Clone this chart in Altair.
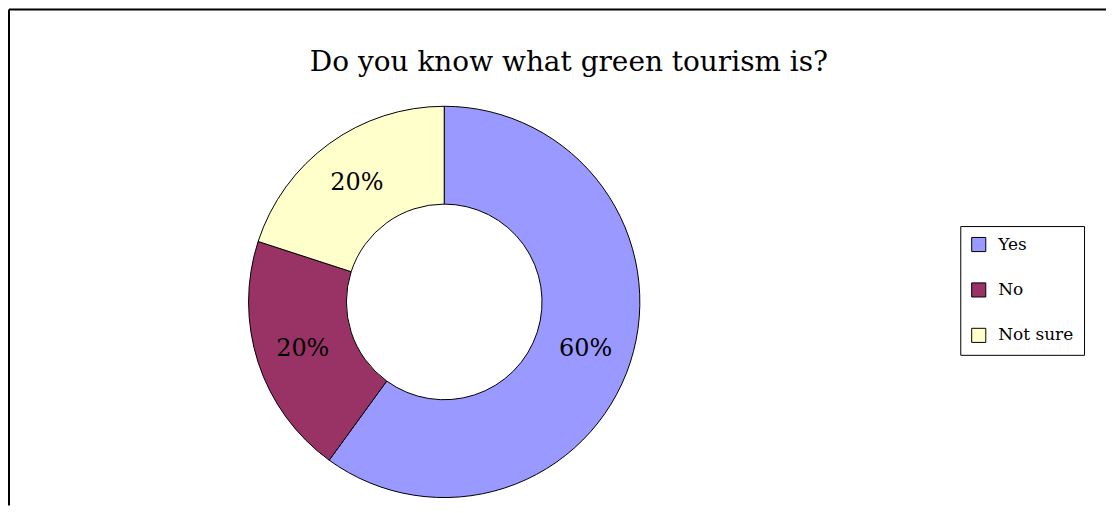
import altair as alt
import pandas as pd

categories = ["Yes", "No", "Not sure"]
values = [60, 20, 20]
labels = ["60%", "20%", "20%"]
colors = ["#9999FF", "#993366", "#FFFFCC"]
title_text = "Do you know what green tourism is?"

df = pd.DataFrame({"cat": categories, "val": values, "lab": labels,
                   "ord": list(range(len(categories)))})

FONT = "DejaVu Serif"
W, H = 1099, 497
CX, CY = 436, 293

base = alt.Chart(df).encode(
    theta=alt.Theta("val:Q", stack=True),
    order=alt.Order("ord:Q"),
)

arcs = base.mark_arc(outerRadius=196, innerRadius=98, stroke="black", strokeWidth=1).encode(
    x=alt.value(CX), y=alt.value(CY),
    color=alt.Color("cat:N", scale=alt.Scale(domain=categories, range=colors),
                    sort=categories,
                    legend=alt.Legend(title=None, orient="none", legendX=953, legendY=217,
                                      symbolType="square", symbolSize=200,
                                      symbolStrokeColor="black", symbolStrokeWidth=1,
                                      labelFont=FONT, labelFontSize=17, labelColor="black",
                                      rowPadding=26.5, padding=10, strokeColor="black",
                                      labelOffset=11)),
)

texts = base.mark_text(radius=149, font=FONT, fontSize=24, color="black").encode(
    x=alt.value(CX), y=alt.value(CY + 1),
    text="lab:N",
)

title = alt.Chart(pd.DataFrame({"t": [title_text]})).mark_text(
    font=FONT, fontSize=28, color="black"
).encode(x=alt.value(561), y=alt.value(54), text="t:N")

frame_df = pd.DataFrame({"k": [0]})
top_rule = alt.Chart(frame_df).mark_rule(color="black", strokeWidth=2).encode(
    x=alt.value(0), x2=alt.value(W), y=alt.value(0))
left_rule = alt.Chart(frame_df).mark_rule(color="black", strokeWidth=2).encode(
    x=alt.value(0), y=alt.value(0), y2=alt.value(H))

chart = alt.layer(arcs, texts, title, top_rule, left_rule).properties(
    width=W, height=H, padding=0
).configure_view(stroke=None)

chart.save("out.html", embed_options={"renderer": "svg", "actions": False})
